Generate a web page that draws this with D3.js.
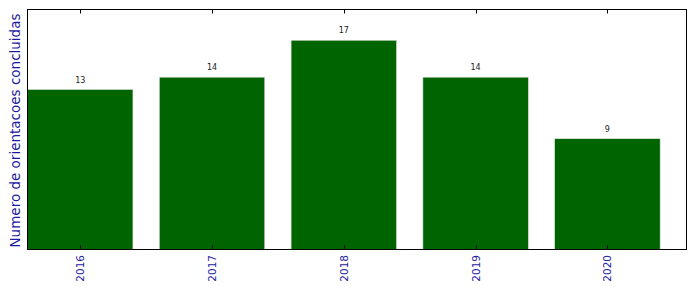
<!DOCTYPE html>
<html><head><meta charset="utf-8">
<script src="https://cdn.jsdelivr.net/npm/d3@7"></script>
<style>body{margin:0;background:#fff}svg{display:block}</style>
</head><body><svg id="c" width="696" height="292"></svg>
<script>
const categories = ["2016","2017","2018","2019","2020"];
const values = [13, 14, 17, 14, 9];
const yLabel = "Numero de orientacoes concluidas";

const svg = d3.select("#c");
const m = {l: 27.5, r: 686.5, t: 9.5, b: 249.5};
const x = d3.scaleLinear().domain([-0.4, 4.6]).range([m.l, m.r]);
const y = d3.scaleLinear().domain([0, 19.5]).range([m.b, m.t]);
const bw = 0.8;

svg.append("rect").attr("width",696).attr("height",292).attr("fill","#fff");

svg.selectAll("rect.bar").data(values).join("rect").attr("class","bar")
  .attr("x",(d,i)=>x(i-bw/2)).attr("width",(d,i)=>x(i+bw/2)-x(i-bw/2))
  .attr("y",d=>y(d)).attr("height",d=>y(0)-y(d))
  .attr("fill","#006400").attr("stroke","#d8e0d8").attr("stroke-width",0.6);

svg.selectAll("text.val").data(values).join("text").attr("class","val")
  .attr("x",(d,i)=>x(i)).attr("y",d=>y(d)-7)
  .attr("text-anchor","middle").attr("font-family","DejaVu Sans").attr("font-size",8)
  .attr("fill","#222").text(d=>d);

// frame
svg.append("rect").attr("x",m.l).attr("y",m.t).attr("width",m.r-m.l).attr("height",m.b-m.t)
  .attr("fill","none").attr("stroke","#000").attr("stroke-width",1);

// ticks
const ticks = svg.append("g");
categories.forEach((c,i)=>{
  const xx = Math.round(x(i))+0.5;
  ticks.append("line").attr("x1",xx).attr("x2",xx).attr("y1",m.b).attr("y2",m.b-4).attr("stroke","#000");
  ticks.append("line").attr("x1",xx).attr("x2",xx).attr("y1",m.t).attr("y2",m.t+4).attr("stroke","#000");
  ticks.append("text").attr("transform",`translate(${x(i)+4},${m.b+5.5}) rotate(-90)`)
    .attr("text-anchor","end").attr("font-family","DejaVu Sans").attr("font-size",10.5)
    .attr("fill","#2424a0").text(c);
});

svg.append("text").attr("transform",`translate(19.5,${(m.t+m.b)/2+1}) rotate(-90)`)
  .attr("text-anchor","middle").attr("font-family","DejaVu Sans").attr("font-size",13.5)
  .attr("fill","#1a1aa0").text(yLabel);
</script></body></html>
